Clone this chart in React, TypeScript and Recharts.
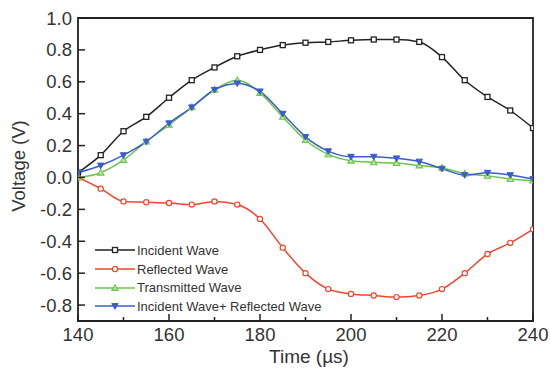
import { LineChart, Line, XAxis, YAxis, ReferenceArea, Legend } from "recharts";

const times = [140, 145, 150, 155, 160, 165, 170, 175, 180, 185, 190, 195, 200, 205, 210, 215, 220, 225, 230, 235, 240];
const incident = [0.03, 0.14, 0.29, 0.38, 0.5, 0.61, 0.69, 0.76, 0.8, 0.83, 0.845, 0.85, 0.86, 0.865, 0.865, 0.85, 0.755, 0.61, 0.505, 0.42, 0.31];
const reflected = [0.0, -0.07, -0.15, -0.155, -0.16, -0.17, -0.15, -0.17, -0.26, -0.44, -0.6, -0.7, -0.73, -0.74, -0.75, -0.74, -0.7, -0.6, -0.48, -0.41, -0.325];
const transmitted = [0.0, 0.03, 0.11, 0.225, 0.33, 0.44, 0.55, 0.61, 0.53, 0.38, 0.235, 0.145, 0.105, 0.095, 0.09, 0.075, 0.06, 0.025, 0.01, -0.01, -0.02];
const summed = [0.03, 0.075, 0.14, 0.225, 0.34, 0.44, 0.55, 0.59, 0.54, 0.4, 0.255, 0.165, 0.13, 0.13, 0.12, 0.1, 0.055, 0.015, 0.03, 0.015, -0.01];

const xTicks = [140, 150, 160, 170, 180, 190, 200, 210, 220, 230, 240];
const yTicks = [-0.8, -0.7, -0.6, -0.5, -0.4, -0.3, -0.2, -0.1, 0, 0.1, 0.2, 0.3, 0.4, 0.5, 0.6, 0.7, 0.8, 0.9, 1.0];

const seriesNames = ["Incident Wave", "Reflected Wave", "Transmitted Wave", "Incident Wave+ Reflected Wave"];
const colors = ["#222222", "#f2462c", "#6cc44a", "#3a5ccc"];
const shapes = ["square", "circle", "up", "down"];

const data = times.map((t, i) => ({
  t,
  incident: incident[i],
  reflected: reflected[i],
  transmitted: transmitted[i],
  summed: summed[i],
}));

const FONT = "'Liberation Sans', Arial, sans-serif";
const AXIS = "#222";
const TEXT = "#333";

function Marker({ cx, cy, shape, color }: any) {
  if (cx == null || cy == null) return null;
  if (shape === "square")
    return <rect x={cx - 2.5} y={cy - 2.5} width={5} height={5} fill="#fff" stroke={color} strokeWidth={1.3} />;
  if (shape === "circle")
    return <circle cx={cx} cy={cy} r={2.6} fill="#fff" stroke={color} strokeWidth={1.2} />;
  if (shape === "up")
    return (
      <path d={`M${cx},${cy - 3.2} L${cx + 3.2},${cy + 2.4} L${cx - 3.2},${cy + 2.4} Z`} fill="#b8e6a0" stroke={color} strokeWidth={1.1} />
    );
  return (
    <path d={`M${cx},${cy + 3.2} L${cx + 3.2},${cy - 2.4} L${cx - 3.2},${cy - 2.4} Z`} fill={color} stroke={color} strokeWidth={1} />
  );
}

function XTick({ x, y, payload }: any) {
  const major = payload.value % 20 === 0;
  return (
    <g>
      <line x1={x} x2={x} y1={y} y2={y - (major ? 7 : 4)} stroke={AXIS} strokeWidth={1.5} />
      {major && (
        <text x={x} y={y + 20} textAnchor="middle" fontSize={18.5} fill={TEXT} fontFamily={FONT}>
          {payload.value}
        </text>
      )}
    </g>
  );
}

function YTick({ x, y, payload }: any) {
  const major = Math.round(payload.value * 10) % 2 === 0;
  return (
    <g>
      <line x1={x} x2={x + (major ? 7 : 4)} y1={y} y2={y} stroke={AXIS} strokeWidth={1.5} />
      {major && (
        <text x={x - 6} y={y + 6.5} textAnchor="end" fontSize={18.5} fill={TEXT} fontFamily={FONT}>
          {payload.value.toFixed(1)}
        </text>
      )}
    </g>
  );
}

function LegendBox() {
  return (
    <div style={{ fontFamily: FONT, fontSize: 13, color: TEXT }}>
      {seriesNames.map((name, i) => (
        <div key={name} style={{ display: "flex", alignItems: "center", height: 18.7, whiteSpace: "nowrap" }}>
          <svg width={42} height={12}>
            <line x1={0} x2={40} y1={6} y2={6} stroke={colors[i]} strokeWidth={1.5} />
            <Marker cx={20} cy={6} shape={shapes[i]} color={colors[i]} />
          </svg>
          <span>{name}</span>
        </div>
      ))}
    </div>
  );
}

export default function App() {
  const keys = ["incident", "reflected", "transmitted", "summed"];
  return (
    <div style={{ position: "absolute", left: 0, top: 0, width: 550, height: 368, background: "#fff" }}>
      <LineChart width={550} height={368} data={data} margin={{ top: 18, right: 17, left: 0, bottom: 0 }}>
        <XAxis
          dataKey="t"
          type="number"
          domain={[140, 240]}
          ticks={xTicks}
          tick={<XTick />}
          tickLine={false}
          tickSize={0}
          tickMargin={0}
          height={47}
          axisLine={false}
          allowDataOverflow
          label={() => (
            <text x={309} y={363} textAnchor="middle" fontSize={19} fill={TEXT} fontFamily={FONT}>
              Time (µs)
            </text>
          )}
        />
        <YAxis
          type="number"
          domain={[-0.9, 1.0]}
          ticks={yTicks}
          tick={<YTick />}
          tickLine={false}
          tickSize={0}
          tickMargin={0}
          width={78}
          axisLine={false}
          allowDataOverflow
          label={() => (
            <text
              x={18}
              y={166}
              transform="rotate(-90 18 166)"
              textAnchor="middle"
              dominantBaseline="central"
              fontSize={18.5}
              fill={TEXT}
              fontFamily={FONT}
            >
              Voltage (V)
            </text>
          )}
        />
        <ReferenceArea x1={140} x2={240} y1={-0.9} y2={1.0} fill="none" stroke={AXIS} strokeWidth={1.8} ifOverflow="visible" />
        {keys.map((k, i) => (
          <Line
            key={k}
            dataKey={k}
            type="monotone"
            stroke={colors[i]}
            strokeWidth={1.5}
            isAnimationActive={false}
            dot={(p: any) => <Marker key={`${k}-${p.index}`} cx={p.cx} cy={p.cy} shape={shapes[i]} color={colors[i]} />}
            activeDot={false}
          />
        ))}
        <Legend
          layout="vertical"
          align="center"
          verticalAlign="middle"
          content={<LegendBox />}
          wrapperStyle={{ left: 95, top: 241, width: 280 }}
        />
      </LineChart>
    </div>
  );
}
